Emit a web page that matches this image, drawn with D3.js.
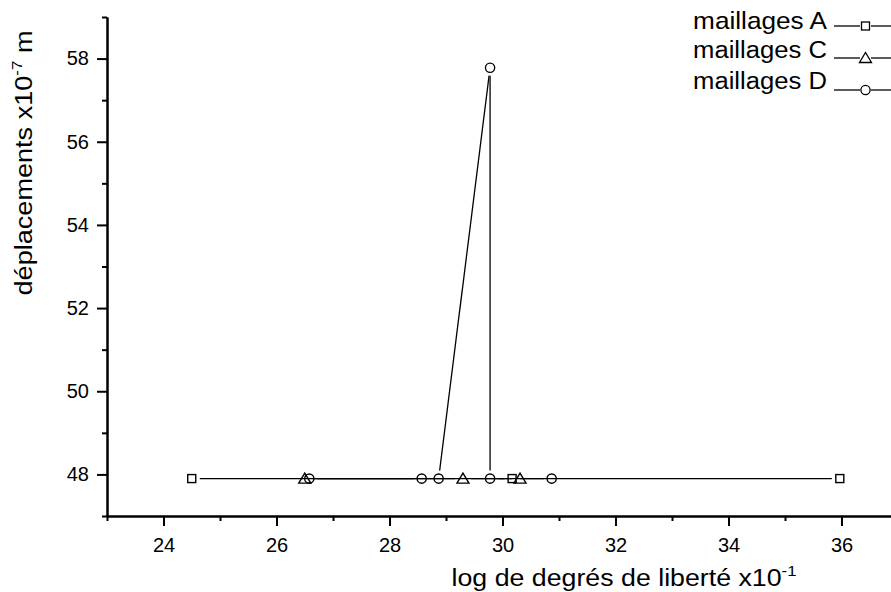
<!DOCTYPE html>
<html>
<head>
<meta charset="utf-8">
<script src="https://cdn.jsdelivr.net/npm/d3@7"></script>
<style>
  body { margin: 0; background: #fff; }
  text { font-family: Arial, "Liberation Sans", sans-serif; fill: #000; }
</style>
</head>
<body>
<svg id="chart" width="891" height="592"></svg>
<script>
// values
const seriesNames = ["maillages A", "maillages C", "maillages D"];
const xA = [24.5, 30.17, 35.97];
const yA = [47.9, 47.9, 47.9];
const xC = [26.5, 29.3, 30.31];
const yC = [47.9, 47.9, 47.9];
const xD = [26.58, 28.57, 28.87, 29.78, 29.78, 30.87];
const yD = [47.9, 47.9, 47.9, 57.78, 47.9, 47.9];
const xMajor = [24, 26, 28, 30, 32, 34, 36];
const xMinor = [23, 25, 27, 29, 31, 33, 35, 37];
const yMajor = [48, 50, 52, 54, 56, 58];
const yMinor = [47, 49, 51, 53, 55, 57, 59];

const svg = d3.select("#chart");

const x = d3.scaleLinear().domain([23, 37]).range([107, 898]);
const y = d3.scaleLinear().domain([47, 59]).range([516, 17]);

// axes
const gx = svg.append("g").attr("transform", "translate(0,516)");
gx.call(d3.axisBottom(x).tickValues(xMajor).tickSize(10).tickSizeOuter(0).tickPadding(12));
const gxm = svg.append("g").attr("transform", "translate(0,516)");
gxm.call(d3.axisBottom(x).tickValues(xMinor).tickSize(5).tickSizeOuter(0).tickFormat(""));

const gy = svg.append("g").attr("transform", "translate(107,0)");
gy.call(d3.axisLeft(y).tickValues(yMajor).tickSize(10).tickSizeOuter(0).tickPadding(8));
const gym = svg.append("g").attr("transform", "translate(107,0)");
gym.call(d3.axisLeft(y).tickValues(yMinor).tickSize(5).tickSizeOuter(0).tickFormat(""));

svg.selectAll(".domain").attr("stroke", "#000").attr("stroke-width", 2);
svg.selectAll(".tick line").attr("stroke", "#000").attr("stroke-width", 2);
svg.selectAll(".tick text").attr("font-size", 20).attr("font-family", "Arial, 'Liberation Sans', sans-serif");

// titles / legend are a bit wider than plain Arial in the reference
function stretch(sel, width) {
  const w = sel.node().getComputedTextLength();
  return width / w;
}

// axis titles
const xt = svg.append("text")
  .attr("text-anchor", "middle")
  .attr("font-size", 24);
xt.append("tspan").text("log de degrés de liberté x10");
xt.append("tspan").attr("dy", -10).attr("font-size", 15).text("-1");
const kx = stretch(xt, 345);
xt.attr("transform", `translate(624,586) scale(${kx},1)`);

const yt = svg.append("text")
  .attr("text-anchor", "middle")
  .attr("font-size", 24);
yt.append("tspan").text("déplacements x10");
yt.append("tspan").attr("dy", -10).attr("font-size", 15).text("-7");
yt.append("tspan").attr("dy", 10).text(" m");
const ky = stretch(yt, 265);
yt.attr("transform", `translate(32,163) rotate(-90) scale(${ky},1)`);

// markers
function marker(g, kind, cx, cy) {
  if (kind === "square") {
    g.append("rect").attr("x", cx - 4).attr("y", cy - 4).attr("width", 8).attr("height", 8);
  } else if (kind === "triangle") {
    g.append("path").attr("d", `M${cx - 6},${cy + 4.5}L${cx + 6},${cy + 4.5}L${cx},${cy - 5.5}Z`);
  } else {
    g.append("circle").attr("cx", cx).attr("cy", cy).attr("r", 4.6);
  }
}

// line with gaps around each marker
function gapLine(g, pts, gap) {
  for (let i = 0; i < pts.length - 1; i++) {
    const [x1, y1] = pts[i], [x2, y2] = pts[i + 1];
    const len = Math.hypot(x2 - x1, y2 - y1);
    if (len <= 2 * gap) continue;
    const ux = (x2 - x1) / len, uy = (y2 - y1) / len;
    g.append("line")
      .attr("x1", x1 + ux * gap).attr("y1", y1 + uy * gap)
      .attr("x2", x2 - ux * gap).attr("y2", y2 - uy * gap);
  }
}

const series = [
  { name: seriesNames[0], xs: xA, ys: yA, kind: "square" },
  { name: seriesNames[1], xs: xC, ys: yC, kind: "triangle" },
  { name: seriesNames[2], xs: xD, ys: yD, kind: "circle" }
];

series.forEach(s => {
  const pts = s.xs.map((v, i) => [x(v), y(s.ys[i])]);
  const gl = svg.append("g").attr("stroke", "#000").attr("stroke-width", 1.3);
  gapLine(gl, pts, 8);
  const gm = svg.append("g").attr("stroke", "#000").attr("stroke-width", 1.4).attr("fill", "none");
  pts.forEach(p => marker(gm, s.kind, p[0], p[1]));
});

// legend
const textRows = [29, 58, 89];
const lineRows = [26, 58, 90];
series.forEach((s, i) => {
  const t = svg.append("text")
    .attr("text-anchor", "end")
    .attr("font-size", 24)
    .text(s.name);
  const k = stretch(t, 134);
  t.attr("transform", `translate(827,${textRows[i]}) scale(${k},1)`);
  const ly = lineRows[i];
  const g = svg.append("g").attr("stroke", "#000").attr("stroke-width", 1.3).attr("fill", "none");
  g.append("line").attr("x1", 834).attr("x2", 860).attr("y1", ly).attr("y2", ly);
  g.append("line").attr("x1", 871).attr("x2", 891).attr("y1", ly).attr("y2", ly);
  marker(g, s.kind, 865.5, ly);
});
</script>
</body>
</html>
